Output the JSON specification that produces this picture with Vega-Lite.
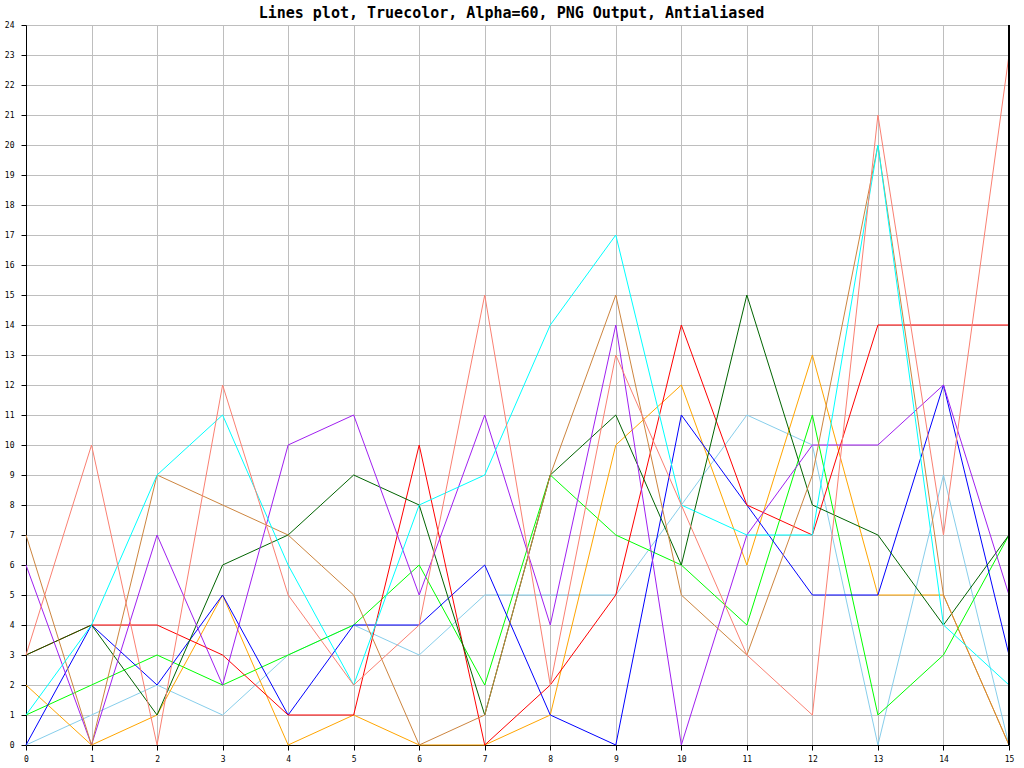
{
  "$schema": "https://vega.github.io/schema/vega-lite/v6.json",
  "autosize": {"type": "none"},
  "width": 983,
  "height": 720,
  "padding": {"left": 26, "top": 25, "right": 15, "bottom": 23},
  "background": "white",
  "title": {
    "text": "Lines plot, Truecolor, Alpha=60, PNG Output, Antialiased",
    "font": "DejaVu Sans Mono",
    "fontSize": 15,
    "fontWeight": "bold",
    "color": "black",
    "anchor": "middle",
    "dx": -6,
    "offset": 0
  },
  "config": {
    "view": {"stroke": null},
    "axis": {
      "domainColor": "black",
      "domainWidth": 1,
      "tickColor": "black",
      "tickSize": 5,
      "gridColor": "#bebebe",
      "gridWidth": 1,
      "gridOpacity": 1,
      "labelFont": "DejaVu Sans Mono",
      "labelFontSize": 8,
      "labelColor": "black",
      "title": null
    }
  },
  "data": {
    "values": [
      {"series": "SkyBlue", "x": 0, "y": 0}, {"series": "SkyBlue", "x": 1, "y": 1}, {"series": "SkyBlue", "x": 2, "y": 2}, {"series": "SkyBlue", "x": 3, "y": 1}, {"series": "SkyBlue", "x": 4, "y": 3}, {"series": "SkyBlue", "x": 5, "y": 4}, {"series": "SkyBlue", "x": 6, "y": 3}, {"series": "SkyBlue", "x": 7, "y": 5}, {"series": "SkyBlue", "x": 8, "y": 5}, {"series": "SkyBlue", "x": 9, "y": 5}, {"series": "SkyBlue", "x": 10, "y": 8}, {"series": "SkyBlue", "x": 11, "y": 11}, {"series": "SkyBlue", "x": 12, "y": 10}, {"series": "SkyBlue", "x": 13, "y": 0}, {"series": "SkyBlue", "x": 14, "y": 9}, {"series": "SkyBlue", "x": 15, "y": 0},
      {"series": "green", "x": 0, "y": 1}, {"series": "green", "x": 1, "y": 2}, {"series": "green", "x": 2, "y": 3}, {"series": "green", "x": 3, "y": 2}, {"series": "green", "x": 4, "y": 3}, {"series": "green", "x": 5, "y": 4}, {"series": "green", "x": 6, "y": 6}, {"series": "green", "x": 7, "y": 2}, {"series": "green", "x": 8, "y": 9}, {"series": "green", "x": 9, "y": 7}, {"series": "green", "x": 10, "y": 6}, {"series": "green", "x": 11, "y": 4}, {"series": "green", "x": 12, "y": 11}, {"series": "green", "x": 13, "y": 1}, {"series": "green", "x": 14, "y": 3}, {"series": "green", "x": 15, "y": 7},
      {"series": "orange", "x": 0, "y": 2}, {"series": "orange", "x": 1, "y": 0}, {"series": "orange", "x": 2, "y": 1}, {"series": "orange", "x": 3, "y": 5}, {"series": "orange", "x": 4, "y": 0}, {"series": "orange", "x": 5, "y": 1}, {"series": "orange", "x": 6, "y": 0}, {"series": "orange", "x": 7, "y": 0}, {"series": "orange", "x": 8, "y": 1}, {"series": "orange", "x": 9, "y": 10}, {"series": "orange", "x": 10, "y": 12}, {"series": "orange", "x": 11, "y": 6}, {"series": "orange", "x": 12, "y": 13}, {"series": "orange", "x": 13, "y": 5}, {"series": "orange", "x": 14, "y": 5}, {"series": "orange", "x": 15, "y": 0},
      {"series": "blue", "x": 0, "y": 0}, {"series": "blue", "x": 1, "y": 4}, {"series": "blue", "x": 2, "y": 2}, {"series": "blue", "x": 3, "y": 5}, {"series": "blue", "x": 4, "y": 1}, {"series": "blue", "x": 5, "y": 4}, {"series": "blue", "x": 6, "y": 4}, {"series": "blue", "x": 7, "y": 6}, {"series": "blue", "x": 8, "y": 1}, {"series": "blue", "x": 9, "y": 0}, {"series": "blue", "x": 10, "y": 11}, {"series": "blue", "x": 11, "y": 8}, {"series": "blue", "x": 12, "y": 5}, {"series": "blue", "x": 13, "y": 5}, {"series": "blue", "x": 14, "y": 12}, {"series": "blue", "x": 15, "y": 3},
      {"series": "red", "x": 0, "y": 3}, {"series": "red", "x": 1, "y": 4}, {"series": "red", "x": 2, "y": 4}, {"series": "red", "x": 3, "y": 3}, {"series": "red", "x": 4, "y": 1}, {"series": "red", "x": 5, "y": 1}, {"series": "red", "x": 6, "y": 10}, {"series": "red", "x": 7, "y": 0}, {"series": "red", "x": 8, "y": 2}, {"series": "red", "x": 9, "y": 5}, {"series": "red", "x": 10, "y": 14}, {"series": "red", "x": 11, "y": 8}, {"series": "red", "x": 12, "y": 7}, {"series": "red", "x": 13, "y": 14}, {"series": "red", "x": 14, "y": 14}, {"series": "red", "x": 15, "y": 14},
      {"series": "DarkGreen", "x": 0, "y": 3}, {"series": "DarkGreen", "x": 1, "y": 4}, {"series": "DarkGreen", "x": 2, "y": 1}, {"series": "DarkGreen", "x": 3, "y": 6}, {"series": "DarkGreen", "x": 4, "y": 7}, {"series": "DarkGreen", "x": 5, "y": 9}, {"series": "DarkGreen", "x": 6, "y": 8}, {"series": "DarkGreen", "x": 7, "y": 1}, {"series": "DarkGreen", "x": 8, "y": 9}, {"series": "DarkGreen", "x": 9, "y": 11}, {"series": "DarkGreen", "x": 10, "y": 6}, {"series": "DarkGreen", "x": 11, "y": 15}, {"series": "DarkGreen", "x": 12, "y": 8}, {"series": "DarkGreen", "x": 13, "y": 7}, {"series": "DarkGreen", "x": 14, "y": 4}, {"series": "DarkGreen", "x": 15, "y": 7},
      {"series": "purple", "x": 0, "y": 6}, {"series": "purple", "x": 1, "y": 0}, {"series": "purple", "x": 2, "y": 7}, {"series": "purple", "x": 3, "y": 2}, {"series": "purple", "x": 4, "y": 10}, {"series": "purple", "x": 5, "y": 11}, {"series": "purple", "x": 6, "y": 5}, {"series": "purple", "x": 7, "y": 11}, {"series": "purple", "x": 8, "y": 4}, {"series": "purple", "x": 9, "y": 14}, {"series": "purple", "x": 10, "y": 0}, {"series": "purple", "x": 11, "y": 7}, {"series": "purple", "x": 12, "y": 10}, {"series": "purple", "x": 13, "y": 10}, {"series": "purple", "x": 14, "y": 12}, {"series": "purple", "x": 15, "y": 5},
      {"series": "peru", "x": 0, "y": 7}, {"series": "peru", "x": 1, "y": 0}, {"series": "peru", "x": 2, "y": 9}, {"series": "peru", "x": 3, "y": 8}, {"series": "peru", "x": 4, "y": 7}, {"series": "peru", "x": 5, "y": 5}, {"series": "peru", "x": 6, "y": 0}, {"series": "peru", "x": 7, "y": 1}, {"series": "peru", "x": 8, "y": 9}, {"series": "peru", "x": 9, "y": 15}, {"series": "peru", "x": 10, "y": 5}, {"series": "peru", "x": 11, "y": 3}, {"series": "peru", "x": 12, "y": 9}, {"series": "peru", "x": 13, "y": 20}, {"series": "peru", "x": 14, "y": 5}, {"series": "peru", "x": 15, "y": 0},
      {"series": "cyan", "x": 0, "y": 1}, {"series": "cyan", "x": 1, "y": 4}, {"series": "cyan", "x": 2, "y": 9}, {"series": "cyan", "x": 3, "y": 11}, {"series": "cyan", "x": 4, "y": 6}, {"series": "cyan", "x": 5, "y": 2}, {"series": "cyan", "x": 6, "y": 8}, {"series": "cyan", "x": 7, "y": 9}, {"series": "cyan", "x": 8, "y": 14}, {"series": "cyan", "x": 9, "y": 17}, {"series": "cyan", "x": 10, "y": 8}, {"series": "cyan", "x": 11, "y": 7}, {"series": "cyan", "x": 12, "y": 7}, {"series": "cyan", "x": 13, "y": 20}, {"series": "cyan", "x": 14, "y": 4}, {"series": "cyan", "x": 15, "y": 2},
      {"series": "salmon", "x": 0, "y": 3}, {"series": "salmon", "x": 1, "y": 10}, {"series": "salmon", "x": 2, "y": 0}, {"series": "salmon", "x": 3, "y": 12}, {"series": "salmon", "x": 4, "y": 5}, {"series": "salmon", "x": 5, "y": 2}, {"series": "salmon", "x": 6, "y": 4}, {"series": "salmon", "x": 7, "y": 15}, {"series": "salmon", "x": 8, "y": 2}, {"series": "salmon", "x": 9, "y": 13}, {"series": "salmon", "x": 10, "y": 8}, {"series": "salmon", "x": 11, "y": 3}, {"series": "salmon", "x": 12, "y": 1}, {"series": "salmon", "x": 13, "y": 21}, {"series": "salmon", "x": 14, "y": 7}, {"series": "salmon", "x": 15, "y": 23}
    ]
  },
  "layer": [
    {
      "mark": {"type": "line", "strokeWidth": 1, "clip": false},
      "encoding": {
        "x": {
          "field": "x", "type": "quantitative",
          "scale": {"domain": [0, 15], "nice": false, "zero": false},
          "axis": {"values": [0,1,2,3,4,5,6,7,8,9,10,11,12,13,14,15], "labelPadding": 5, "labelFlush": false, "labelOverlap": false, "format": "d"}
        },
        "y": {
          "field": "y", "type": "quantitative",
          "scale": {"domain": [0, 24], "nice": false},
          "axis": {"values": [0,1,2,3,4,5,6,7,8,9,10,11,12,13,14,15,16,17,18,19,20,21,22,23,24], "labelPadding": 7, "labelFlush": false, "labelOverlap": false, "format": "d"}
        },
        "color": {
          "field": "series", "type": "nominal", "legend": null,
          "scale": {
            "domain": ["SkyBlue", "green", "orange", "blue", "red", "DarkGreen", "purple", "peru", "cyan", "salmon"],
            "range": ["#87ceeb", "#00ff00", "#ffa500", "#0000ff", "#ff0000", "#006400", "#a020f0", "#cd853f", "#00ffff", "#fa8072"]
          }
        },
        "order": {"field": "x", "type": "quantitative"}
      }
    },
    {
      "mark": {"type": "rule", "color": "black", "strokeWidth": 1},
      "encoding": {"x": {"datum": 15}}
    }
  ]
}
